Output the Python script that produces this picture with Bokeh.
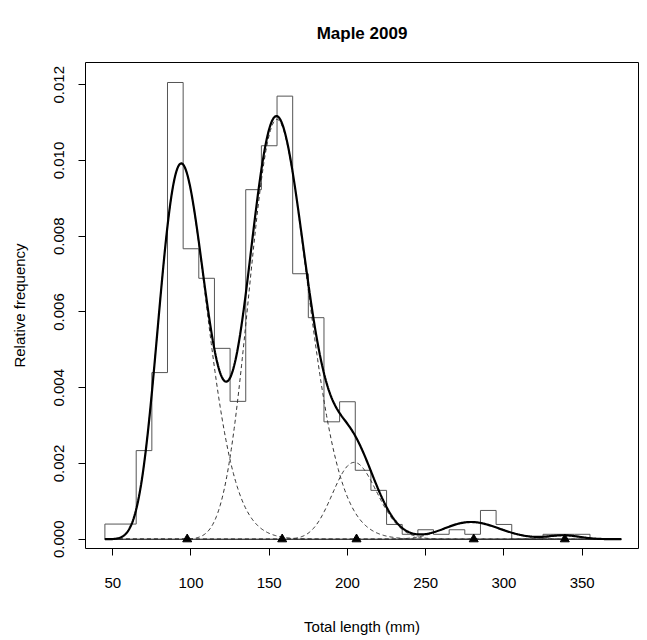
import numpy as np
from bokeh.plotting import figure
from bokeh.models import Range1d, FixedTicker, PrintfTickFormatter
from bokeh.embed import file_html
from bokeh.resources import INLINE

# ---- data ----
# histogram of total length (mm): bin edges and relative frequency per bin
bin_edges = [45, 65, 75, 85, 95, 105, 115, 125, 135, 145, 155, 165, 175, 185,
             195, 205, 215, 225, 235, 245, 255, 265, 275, 285, 295, 305, 315,
             325, 335, 345, 355]
rel_freq = [0.00040, 0.00234, 0.00440, 0.01206, 0.00767, 0.00689, 0.00504,
            0.00364, 0.00923, 0.01039, 0.01170, 0.00701, 0.00585, 0.00310,
            0.00363, 0.00182, 0.00129, 0.00039, 0.00013, 0.00025, 0.00013,
            0.00025, 0.00013, 0.00076, 0.00039, 0.0, 0.0, 0.00013, 0.00013,
            0.00013]

# fitted mixture components (lognormal): mean, sd, proportion
comp_mean = [97.6, 158.3, 205.8, 280.7, 338.9]
comp_sd = [16.0, 18.9, 14.2, 18.0, 10.0]
comp_prop = [0.385, 0.516, 0.0718, 0.0204, 0.0025]

curve_range = [45, 375]
x_ticks = [50, 100, 150, 200, 250, 300, 350]
y_ticks = [0.000, 0.002, 0.004, 0.006, 0.008, 0.010, 0.012]

FONT = "Liberation Sans"

# ---- figure ----
p = figure(width=647, height=640,
           x_range=Range1d(32.6, 386.0), y_range=Range1d(-0.000245, 0.012588),
           output_backend="svg", toolbar_location=None,
           min_border_left=85, min_border_right=9,
           min_border_top=62, min_border_bottom=92)
p.background_fill_color = "white"
p.border_fill_color = "white"
p.outline_line_color = "black"
p.outline_line_width = 1
p.grid.visible = False

p.title.text = "Maple 2009"
p.title.align = "center"
p.title.text_font = FONT
p.title.text_font_size = "17px"
p.title.text_font_style = "bold"
p.title.text_color = "black"
p.title.standoff = 40

for ax in (p.xaxis[0], p.yaxis[0]):
    ax.axis_line_color = None
    ax.major_tick_out = 7
    ax.major_tick_in = 0
    ax.minor_tick_out = 0
    ax.minor_tick_in = 0
    ax.major_tick_line_color = "black"
    ax.major_label_text_font = FONT
    ax.major_label_text_font_size = "15px"
    ax.major_label_text_color = "black"
    ax.axis_label_text_font = FONT
    ax.axis_label_text_font_size = "15px"
    ax.axis_label_text_font_style = "normal"
    ax.axis_label_text_color = "black"

p.xaxis.ticker = FixedTicker(ticks=x_ticks)
p.xaxis.axis_label = "Total length (mm)"
p.xaxis.major_label_standoff = 22
p.xaxis.axis_label_standoff = 27

p.yaxis.ticker = FixedTicker(ticks=y_ticks)
p.yaxis.formatter = PrintfTickFormatter(format="%.3f")
p.yaxis.major_label_orientation = "vertical"
p.yaxis.axis_label = "Relative frequency"
p.yaxis.major_label_standoff = 14
p.yaxis.axis_label_standoff = 24

# histogram as a stepped outline
hx, hy = [bin_edges[0]], [0.0]
for i, h in enumerate(rel_freq):
    hx += [bin_edges[i], bin_edges[i + 1]]
    hy += [h, h]
hx.append(bin_edges[-1])
hy.append(0.0)
p.line(hx, hy, line_color="#555555", line_width=1)

# baseline
p.line(curve_range, [0, 0], line_color="black", line_width=1)

# mixture components and total density
xs = np.linspace(curve_range[0], curve_range[1], 700)
total = np.zeros_like(xs)
for m, s, w in zip(comp_mean, comp_sd, comp_prop):
    sig2 = np.log(1 + (s / m) ** 2)
    mu = np.log(m) - sig2 / 2
    dens = w * np.exp(-(np.log(xs) - mu) ** 2 / (2 * sig2)) / (xs * np.sqrt(2 * np.pi * sig2))
    total += dens
    p.line(xs, dens, line_color="#333333", line_width=1, line_dash="4 3")

p.line(xs, total, line_color="black", line_width=2.2)

# component means
p.scatter(comp_mean, [0] * len(comp_mean), marker="triangle", size=9,
          fill_color="black", line_color="black")

open("out.html", "w").write(file_html(p, INLINE))
